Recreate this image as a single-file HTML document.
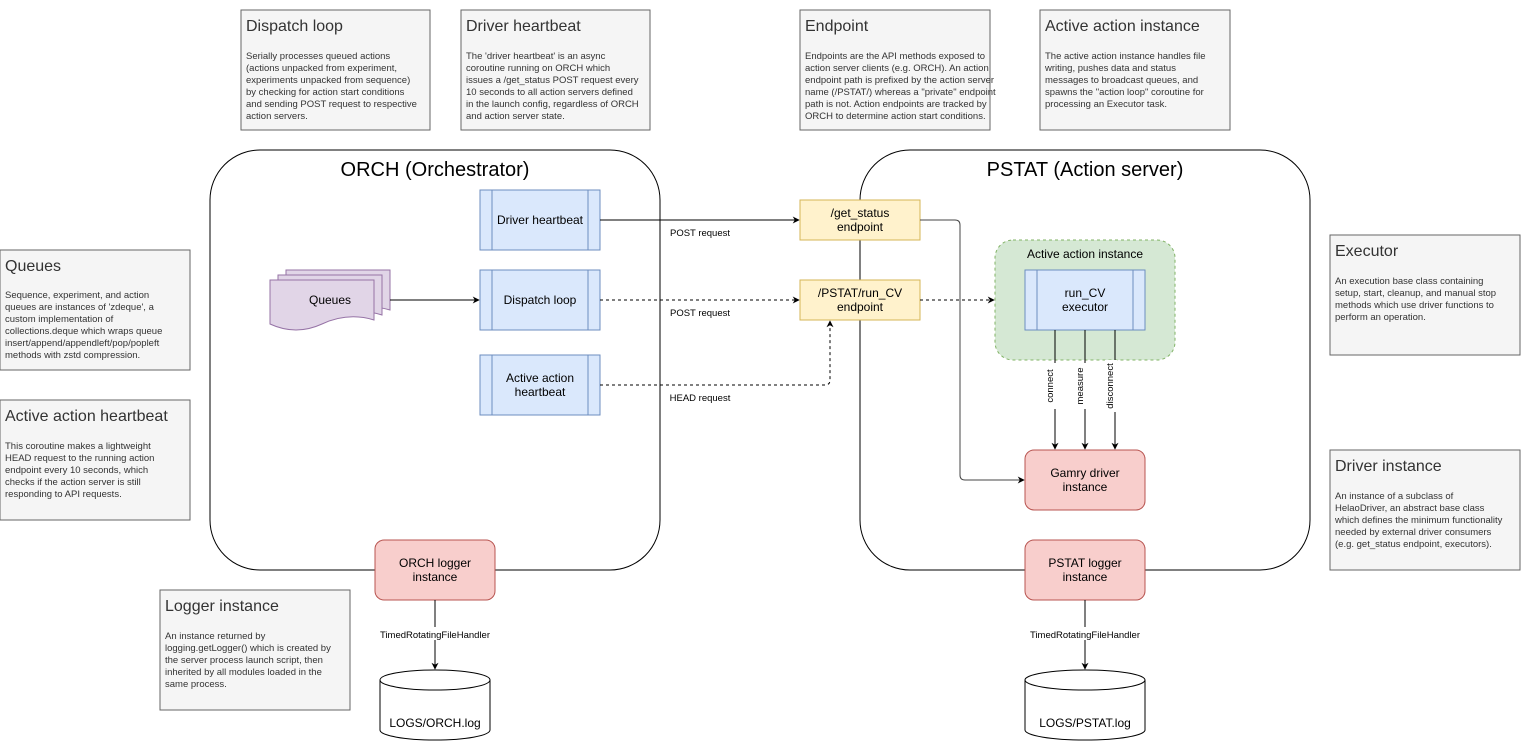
<!DOCTYPE html>
<html><head><meta charset="utf-8"><style>
html,body{margin:0;padding:0;background:#fff;}
svg{display:block;font-family:"Liberation Sans",sans-serif;}
</style></head><body>
<svg width="1521" height="751" viewBox="0 0 1521 751" xmlns="http://www.w3.org/2000/svg">
<defs>
<marker id="a" viewBox="0 0 10 10" refX="9" refY="5" markerWidth="7" markerHeight="7" orient="auto"><path d="M0,0 L10,5 L0,10 L3,5 Z" fill="#000"/></marker>
</defs>
<rect x="0" y="0" width="1521" height="751" fill="#fff"/>

<rect x="210" y="150" width="450" height="420" rx="50" fill="#fff" stroke="#000" stroke-width="1"/>
<rect x="860" y="150" width="450" height="420" rx="50" fill="#fff" stroke="#000" stroke-width="1"/>
<text x="435" y="176" font-size="20" text-anchor="middle">ORCH (Orchestrator)</text>
<text x="1085" y="176" font-size="20" text-anchor="middle">PSTAT (Action server)</text>

<g fill="#f5f5f5" stroke="#666">
<rect x="241" y="10" width="189" height="120"/>
<rect x="461" y="10" width="189" height="120"/>
<rect x="800" y="10" width="190" height="120"/>
<rect x="1040" y="10" width="190" height="120"/>
<rect x="0" y="250" width="190" height="120"/>
<rect x="0" y="400" width="190" height="120"/>
<rect x="160" y="590" width="190" height="120"/>
<rect x="1330" y="235" width="190" height="120"/>
<rect x="1330" y="450" width="190" height="120"/>
</g>
<g fill="#333" font-size="16">
<text x="246" y="31">Dispatch loop</text>
<text x="466" y="31">Driver heartbeat</text>
<text x="805" y="31">Endpoint</text>
<text x="1045" y="31">Active action instance</text>
<text x="5" y="271">Queues</text>
<text x="5" y="421">Active action heartbeat</text>
<text x="165" y="611">Logger instance</text>
<text x="1335" y="256">Executor</text>
<text x="1335" y="471">Driver instance</text>
</g>
<g fill="#333" font-size="9.5">
<text x="246" y="59">Serially processes queued actions<tspan x="246" dy="12">(actions unpacked from experiment,</tspan><tspan x="246" dy="12">experiments unpacked from sequence)</tspan><tspan x="246" dy="12">by checking for action start conditions</tspan><tspan x="246" dy="12">and sending POST request to respective</tspan><tspan x="246" dy="12">action servers.</tspan></text>
<text x="466" y="59">The 'driver heartbeat' is an async<tspan x="466" dy="12">coroutine running on ORCH which</tspan><tspan x="466" dy="12">issues a /get_status POST request every</tspan><tspan x="466" dy="12">10 seconds to all action servers defined</tspan><tspan x="466" dy="12">in the launch config, regardless of ORCH</tspan><tspan x="466" dy="12">and action server state.</tspan></text>
<text x="805" y="59">Endpoints are the API methods exposed to<tspan x="805" dy="12">action server clients (e.g. ORCH). An action</tspan><tspan x="805" dy="12">endpoint path is prefixed by the action server</tspan><tspan x="805" dy="12">name (/PSTAT/) whereas a "private" endpoint</tspan><tspan x="805" dy="12">path is not. Action endpoints are tracked by</tspan><tspan x="805" dy="12">ORCH to determine action start conditions.</tspan></text>
<text x="1045" y="59">The active action instance handles file<tspan x="1045" dy="12">writing, pushes data and status</tspan><tspan x="1045" dy="12">messages to broadcast queues, and</tspan><tspan x="1045" dy="12">spawns the "action loop" coroutine for</tspan><tspan x="1045" dy="12">processing an Executor task.</tspan></text>
<text x="5" y="298">Sequence, experiment, and action<tspan x="5" dy="12">queues are instances of 'zdeque', a</tspan><tspan x="5" dy="12">custom implementation of</tspan><tspan x="5" dy="12">collections.deque which wraps queue</tspan><tspan x="5" dy="12">insert/append/appendleft/pop/popleft</tspan><tspan x="5" dy="12">methods with zstd compression.</tspan></text>
<text x="5" y="449">This coroutine makes a lightweight<tspan x="5" dy="12">HEAD request to the running action</tspan><tspan x="5" dy="12">endpoint every 10 seconds, which</tspan><tspan x="5" dy="12">checks if the action server is still</tspan><tspan x="5" dy="12">responding to API requests.</tspan></text>
<text x="165" y="639">An instance returned by<tspan x="165" dy="12">logging.getLogger() which is created by</tspan><tspan x="165" dy="12">the server process launch script, then</tspan><tspan x="165" dy="12">inherited by all modules loaded in the</tspan><tspan x="165" dy="12">same process.</tspan></text>
<text x="1335" y="284">An execution base class containing<tspan x="1335" dy="12">setup, start, cleanup, and manual stop</tspan><tspan x="1335" dy="12">methods which use driver functions to</tspan><tspan x="1335" dy="12">perform an operation.</tspan></text>
<text x="1335" y="499">An instance of a subclass of<tspan x="1335" dy="12">HelaoDriver, an abstract base class</tspan><tspan x="1335" dy="12">which defines the minimum functionality</tspan><tspan x="1335" dy="12">needed by external driver consumers</tspan><tspan x="1335" dy="12">(e.g. get_status endpoint, executors).</tspan></text>
</g>

<rect x="995" y="240" width="180" height="120" rx="18" fill="#d5e8d4" stroke="#82b366" stroke-dasharray="3,3"/>
<text x="1085" y="258" font-size="12" text-anchor="middle">Active action instance</text>

<g fill="#dae8fc" stroke="#6c8ebf">
<rect x="480" y="190" width="120" height="60"/><line x1="492" y1="190" x2="492" y2="250"/><line x1="588" y1="190" x2="588" y2="250"/>
<rect x="480" y="270" width="120" height="60"/><line x1="492" y1="270" x2="492" y2="330"/><line x1="588" y1="270" x2="588" y2="330"/>
<rect x="480" y="355" width="120" height="60"/><line x1="492" y1="355" x2="492" y2="415"/><line x1="588" y1="355" x2="588" y2="415"/>
<rect x="1025" y="270" width="120" height="60"/><line x1="1037" y1="270" x2="1037" y2="330"/><line x1="1133" y1="270" x2="1133" y2="330"/>
</g>
<g font-size="12" text-anchor="middle" fill="#000">
<text x="540" y="224">Driver heartbeat</text>
<text x="540" y="304">Dispatch loop</text>
<text x="540" y="382">Active action<tspan x="540" dy="14">heartbeat</tspan></text>
<text x="1085" y="297">run_CV<tspan x="1085" dy="14">executor</tspan></text>
</g>

<g fill="#fff2cc" stroke="#d6b656">
<rect x="800" y="200" width="120" height="40"/>
<rect x="800" y="280" width="120" height="40"/>
</g>
<g font-size="12" text-anchor="middle">
<text x="860" y="217">/get_status<tspan x="860" dy="14">endpoint</tspan></text>
<text x="860" y="297">/PSTAT/run_CV<tspan x="860" dy="14">endpoint</tspan></text>
</g>

<g fill="#f8cecc" stroke="#b85450">
<rect x="1025" y="450" width="120" height="60" rx="9"/>
<rect x="375" y="540" width="120" height="60" rx="9"/>
<rect x="1025" y="540" width="120" height="60" rx="9"/>
</g>
<g font-size="12" text-anchor="middle">
<text x="1085" y="477">Gamry driver<tspan x="1085" dy="14">instance</tspan></text>
<text x="435" y="567">ORCH logger<tspan x="435" dy="14">instance</tspan></text>
<text x="1085" y="567">PSTAT logger<tspan x="1085" dy="14">instance</tspan></text>
</g>

<g fill="#e1d5e7" stroke="#9673a6">
<path d="M286,270 h104 v40 q-26,-8 -52,4 t-52,0 z"/>
<path d="M278,275 h104 v40 q-26,-8 -52,4 t-52,0 z"/>
<path d="M270,280 h104 v40 q-26,-8 -52,4 t-52,0 z"/>
</g>
<text x="330" y="304" font-size="12" text-anchor="middle">Queues</text>

<g fill="#fff" stroke="#000">
<path d="M380,680 v50 a55,10 0 0 0 110,0 v-50"/><ellipse cx="435" cy="680" rx="55" ry="10"/>
<path d="M1025,680 v50 a60,10 0 0 0 120,0 v-50"/><ellipse cx="1085" cy="680" rx="60" ry="10"/>
</g>
<g font-size="12" text-anchor="middle">
<text x="435" y="727">LOGS/ORCH.log</text>
<text x="1085" y="727">LOGS/PSTAT.log</text>
</g>

<g fill="none" stroke="#000" stroke-width="1">
<line x1="600" y1="220" x2="799" y2="220" marker-end="url(#a)"/>
<line x1="390" y1="300" x2="479" y2="300" marker-end="url(#a)"/>
<line x1="600" y1="300" x2="799" y2="300" stroke-dasharray="3,3" marker-end="url(#a)"/>
<path d="M600,385 H825 q5,0 5,-5 V321" stroke-dasharray="3,3" marker-end="url(#a)"/>
<line x1="920" y1="300" x2="994" y2="300" stroke-dasharray="3,3" marker-end="url(#a)"/>
<path d="M920,220 H955 q5,0 5,5 V475 q0,5 5,5 H1024" stroke="#444" marker-end="url(#a)"/>
<line x1="1055" y1="330" x2="1055" y2="449" marker-end="url(#a)"/>
<line x1="1085" y1="330" x2="1085" y2="449" marker-end="url(#a)"/>
<line x1="1115" y1="330" x2="1115" y2="449" marker-end="url(#a)"/>
<line x1="435" y1="600" x2="435" y2="669" marker-end="url(#a)"/>
<line x1="1085" y1="600" x2="1085" y2="669" marker-end="url(#a)"/>
</g>
<g fill="#fff">
<rect x="375" y="627" width="120" height="13"/>
<rect x="1025" y="627" width="120" height="13"/>
<rect x="1045" y="363" width="12" height="46"/>
<rect x="1075" y="363" width="12" height="46"/>
<rect x="1105" y="360" width="12" height="52"/>
</g>
<g font-size="9.5" fill="#000">
<text x="700" y="236" text-anchor="middle">POST request</text>
<text x="700" y="316" text-anchor="middle">POST request</text>
<text x="700" y="401" text-anchor="middle">HEAD request</text>
<text x="435" y="638" text-anchor="middle">TimedRotatingFileHandler</text>
<text x="1085" y="638" text-anchor="middle">TimedRotatingFileHandler</text>
<text transform="translate(1053,386) rotate(-90)" text-anchor="middle">connect</text>
<text transform="translate(1083,386) rotate(-90)" text-anchor="middle">measure</text>
<text transform="translate(1113,386) rotate(-90)" text-anchor="middle">disconnect</text>
</g>
</svg>
</body></html>
